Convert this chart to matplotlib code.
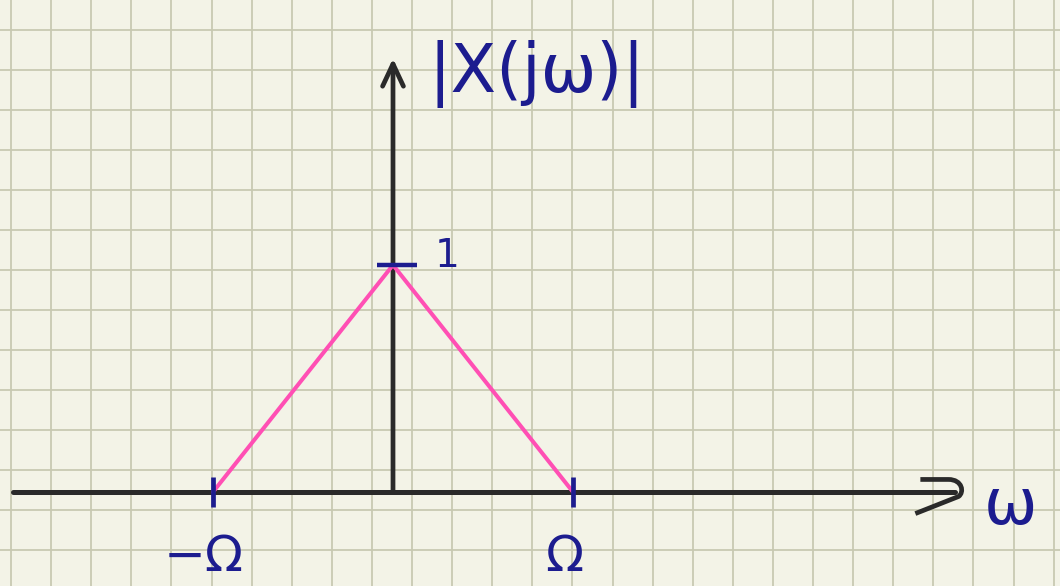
import numpy as np
import matplotlib.pyplot as plt
from matplotlib.path import Path

# |X(jw)| : triangular spectrum, band-limited to [-Omega, Omega]
omega = [-1.0, 0.0, 1.0]
magnitude = [0.0, 1.0, 0.0]
x_ticks = [-1.0, 1.0]
x_tick_labels = ['−Ω', 'Ω']
y_ticks = [1.0]
y_tick_labels = ['1']

ink = '#1c1c8f'
pencil = '#2a2a2a'
pink = '#ff4fb4'
paper = '#f3f3e7'
rule = '#c8c9b2'

W, H = 1060, 586
fig = plt.figure(figsize=(W / 100, H / 100), dpi=100)
fig.patch.set_facecolor(paper)

# squared paper in the background
bg = fig.add_axes([0, 0, 1, 1])
bg.set_xlim(0, W)
bg.set_ylim(H, 0)
bg.set_facecolor(paper)
for gx in np.arange(11, W, 40.1):
    bg.axvline(gx, color=rule, lw=1.3, zorder=0)
for gy in np.arange(30, H, 40.0):
    bg.axhline(gy, color=rule, lw=1.3, zorder=0)
bg.axis('off')

# plot axes: origin where the hand-drawn axes cross
ax = fig.add_axes([0, 0, 1, 1])
ax.patch.set_alpha(0)
x0, y0 = 393, 492
sx, sy = 180.0, 227.0
ax.set_xlim(-x0 / sx, (W - x0) / sx)
ax.set_ylim(-(H - y0) / sy, y0 / sy)
ax.axis('off')

# horizontal axis with rounded open head
x_left, x_right = -2.11, 3.12
ax.plot([x_left, x_right], [0, 0], color=pencil, lw=3.6, solid_capstyle='round', zorder=2)
head = Path(np.array([(-40, 13), (-12, 13), (2, 13), (4, 0), (-2, -4), (-45, -21)]) / 45.0,
            [Path.MOVETO, Path.LINETO, Path.CURVE4, Path.CURVE4, Path.CURVE4, Path.LINETO])
ax.plot([x_right + 0.03], [0], marker=head, markersize=65, color=pencil,
        fillstyle='none', markeredgewidth=3.4, zorder=2)

# vertical axis with open arrow head
y_top = 1.91
ax.annotate('', xy=(0, y_top), xytext=(0, 0),
            arrowprops=dict(arrowstyle='->,head_length=1.6,head_width=0.75',
                            color=pencil, lw=3.4, shrinkA=0, shrinkB=0), zorder=2)

# spectrum
ax.plot(omega, magnitude, color=pink, lw=2.9, solid_capstyle='round', zorder=3)

# ticks and their labels
ax.plot(x_ticks, [0] * len(x_ticks), ls='none', marker='|', markersize=22,
        markeredgewidth=3.4, color=ink, zorder=4)
ax.plot([0.02] * len(y_ticks), y_ticks, ls='none', marker='_', markersize=29,
        markeredgewidth=3.2, color=ink, zorder=4)
for xt, lab in zip(x_ticks, x_tick_labels):
    ax.text(xt - 0.05, -0.39, lab, color=ink, fontsize=36, ha='center', va='bottom')
for yt, lab in zip(y_ticks, y_tick_labels):
    ax.text(0.3, yt + 0.04, lab, color=ink, fontsize=28, ha='center', va='center')

# axis names
ax.text(0.2, 1.84, '|X(jω)|', color=ink, fontsize=48, ha='left', va='center')
ax.text(3.28, -0.06, 'ω', color=ink, fontsize=46, ha='left', va='center')

fig.savefig('out.png', dpi=100, facecolor=paper)
